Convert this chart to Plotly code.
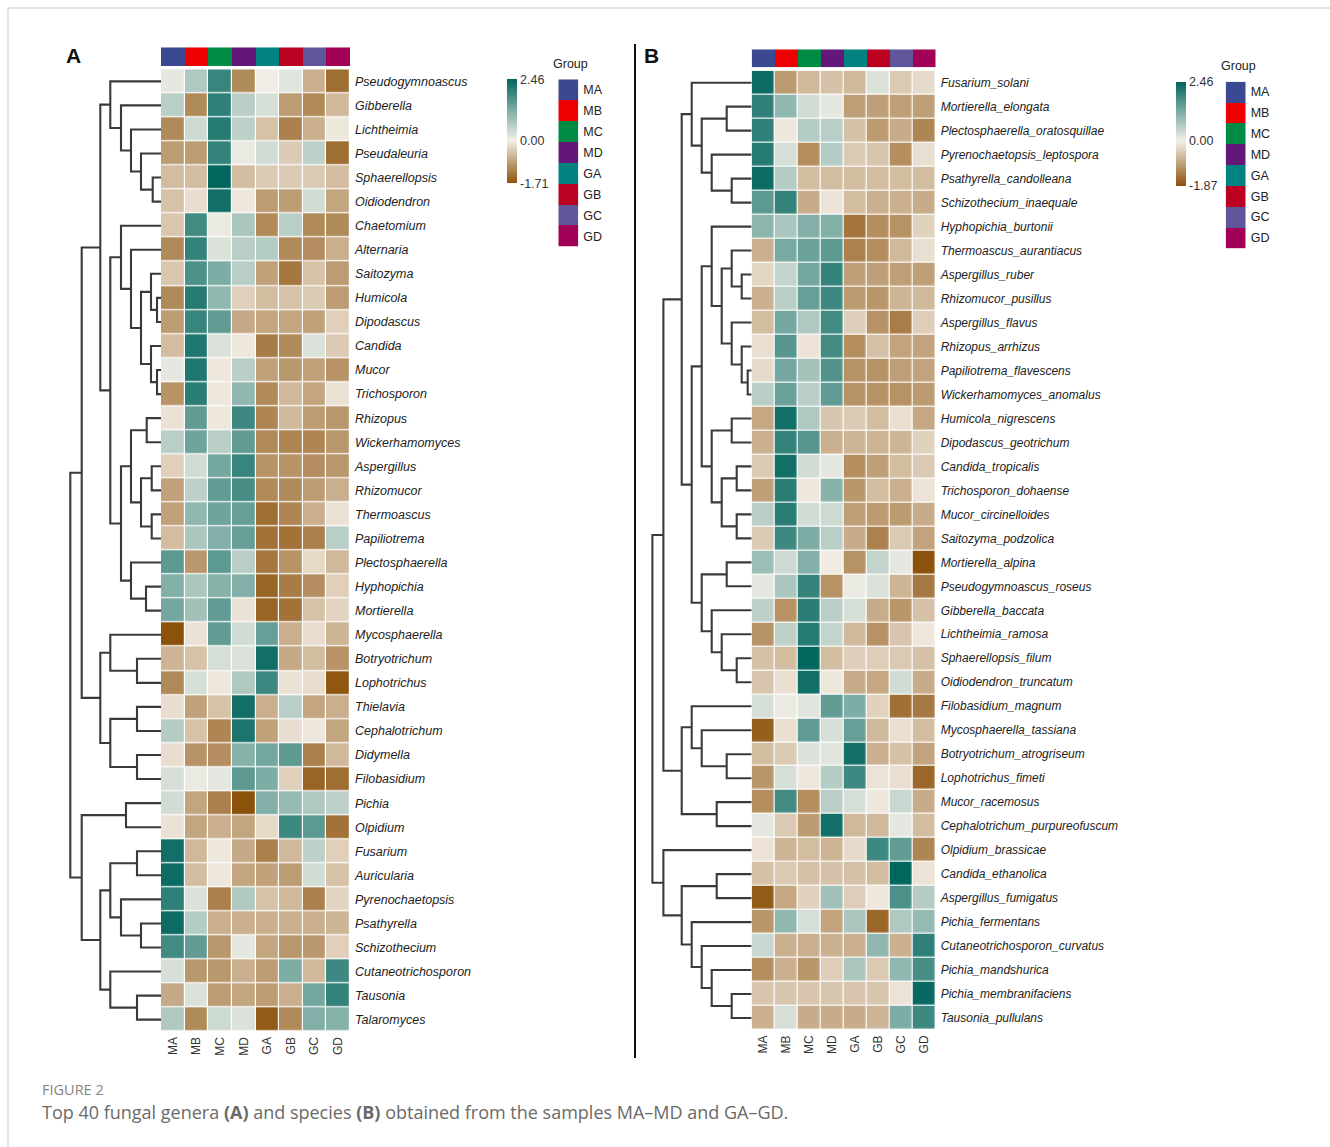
import plotly.graph_objects as go

W, H = 1330, 1147

GROUPS = ["MA", "MB", "MC", "MD", "GA", "GB", "GC", "GD"]
GROUP_COLORS = ["#3B4992", "#EE0000", "#008B45", "#631879",
                "#008280", "#BB0021", "#5F559B", "#A20056"]

GENERA = ["Pseudogymnoascus", "Gibberella", "Lichtheimia", "Pseudaleuria", "Sphaerellopsis",
          "Oidiodendron", "Chaetomium", "Alternaria", "Saitozyma", "Humicola",
          "Dipodascus", "Candida", "Mucor", "Trichosporon", "Rhizopus",
          "Wickerhamomyces", "Aspergillus", "Rhizomucor", "Thermoascus", "Papiliotrema",
          "Plectosphaerella", "Hyphopichia", "Mortierella", "Mycosphaerella", "Botryotrichum",
          "Lophotrichus", "Thielavia", "Cephalotrichum", "Didymella", "Filobasidium",
          "Pichia", "Olpidium", "Fusarium", "Auricularia", "Pyrenochaetopsis",
          "Psathyrella", "Schizothecium", "Cutaneotrichosporon", "Tausonia", "Talaromyces"]

VALUES_A = [
    [0.15, 0.70, 1.90, -1.10, 0.05, 0.20, -0.70, -1.40],
    [0.60, -1.10, 2.00, 0.60, 0.30, -0.90, -1.10, -0.60],
    [-1.10, 0.40, 2.10, 0.55, -0.50, -1.20, -0.70, -0.10],
    [-0.90, -0.90, 1.95, 0.10, 0.35, -0.40, 0.55, -1.40],
    [-0.55, -0.55, 2.46, -0.55, -0.40, -0.40, -0.40, -0.55],
    [-0.50, -0.20, 2.30, -0.10, -0.90, -0.90, 0.35, -0.80],
    [-0.45, 1.80, 0.10, 0.75, -1.10, 0.60, -1.10, -1.10],
    [-1.10, 1.95, 0.25, 0.60, 0.65, -1.10, -1.05, -0.70],
    [-0.45, 1.70, 1.20, 0.60, -0.85, -1.30, -0.50, -0.90],
    [-1.10, 2.10, 1.00, -0.35, -0.55, -0.50, -0.40, -0.90],
    [-0.90, 1.90, 1.50, -0.75, -0.80, -0.80, -0.85, -0.35],
    [-0.55, 2.15, 0.25, -0.10, -1.25, -1.10, 0.25, -0.40],
    [0.15, 2.15, -0.10, 0.60, -0.85, -0.95, -0.85, -1.00],
    [-1.00, 2.05, -0.10, 1.00, -1.10, -0.60, -0.80, -0.15],
    [-0.15, 1.50, -0.10, 1.85, -1.15, -0.60, -0.90, -0.95],
    [0.60, 1.35, 0.60, 1.50, -1.10, -1.15, -1.15, -0.95],
    [-0.35, 0.35, 1.30, 1.90, -1.00, -1.00, -1.05, -0.95],
    [-0.85, 0.55, 1.50, 1.75, -1.10, -1.10, -0.90, -0.70],
    [-0.85, 1.00, 1.35, 1.45, -1.40, -1.15, -0.70, -0.15],
    [-0.55, 0.75, 1.15, 1.45, -1.35, -1.35, -1.20, 0.60],
    [1.55, -0.95, 1.55, 0.60, -1.30, -1.00, -0.25, -0.60],
    [1.15, 0.75, 1.10, 1.15, -1.50, -1.25, -1.05, -0.35],
    [1.30, 0.85, 1.50, -0.15, -1.50, -1.35, -0.50, -0.30],
    [-1.71, -0.15, 1.50, 0.35, 1.45, -0.70, -0.20, -0.65],
    [-0.65, -0.50, 0.30, 0.25, 2.30, -0.75, -0.55, -1.00],
    [-1.10, 0.30, -0.10, 0.70, 1.85, -0.15, -0.20, -1.65],
    [-0.20, -0.85, -0.50, 2.30, -0.70, 0.60, -0.80, -0.70],
    [0.65, -0.50, -1.15, 2.20, -0.85, -0.20, -0.10, -0.80],
    [-0.20, -1.00, -1.05, 1.10, 1.30, 1.55, -1.20, -0.60],
    [0.30, 0.10, 0.15, 1.55, 1.20, -0.35, -1.50, -1.40],
    [0.35, -0.80, -1.20, -1.71, 1.15, 0.95, 0.70, 0.55],
    [-0.15, -0.80, -0.70, -0.80, -0.25, 1.85, 1.55, -1.35],
    [2.30, -0.60, -0.10, -0.75, -1.20, -0.60, 0.55, -0.35],
    [2.35, -0.55, -0.10, -0.80, -0.85, -0.90, 0.35, -0.50],
    [2.00, 0.25, -1.20, 0.70, -0.50, -0.60, -1.20, -0.30],
    [2.35, 0.65, -0.70, -0.70, -0.70, -0.70, -0.70, -0.65],
    [1.80, 1.50, -0.95, 0.15, -0.80, -0.95, -0.95, -0.35],
    [0.30, -0.95, -0.95, -0.70, -0.90, 1.20, -0.60, 1.85],
    [-0.75, 0.25, -0.90, -0.80, -0.90, -0.70, 1.30, 1.95],
    [0.70, -1.10, 0.40, 0.25, -1.60, -1.10, 1.15, 1.10],
]

SPECIES = ["Fusarium_solani", "Mortierella_elongata", "Plectosphaerella_oratosquillae",
           "Pyrenochaetopsis_leptospora", "Psathyrella_candolleana", "Schizothecium_inaequale",
           "Hyphopichia_burtonii", "Thermoascus_aurantiacus", "Aspergillus_ruber",
           "Rhizomucor_pusillus", "Aspergillus_flavus", "Rhizopus_arrhizus",
           "Papiliotrema_flavescens", "Wickerhamomyces_anomalus", "Humicola_nigrescens",
           "Dipodascus_geotrichum", "Candida_tropicalis", "Trichosporon_dohaense",
           "Mucor_circinelloides", "Saitozyma_podzolica", "Mortierella_alpina",
           "Pseudogymnoascus_roseus", "Gibberella_baccata", "Lichtheimia_ramosa",
           "Sphaerellopsis_filum", "Oidiodendron_truncatum", "Filobasidium_magnum",
           "Mycosphaerella_tassiana", "Botryotrichum_atrogriseum", "Lophotrichus_fimeti",
           "Mucor_racemosus", "Cephalotrichum_purpureofuscum", "Olpidium_brassicae",
           "Candida_ethanolica", "Aspergillus_fumigatus", "Pichia_fermentans",
           "Cutaneotrichosporon_curvatus", "Pichia_mandshurica", "Pichia_membranifaciens",
           "Tausonia_pullulans"]

VALUES_B = [
    [2.35, -1.00, -0.65, -0.55, -0.65, 0.25, -0.45, -0.25],
    [2.00, 1.00, 0.35, 0.15, -0.95, -0.95, -0.95, -0.95],
    [2.00, -0.10, 0.65, 0.60, -0.55, -1.00, -0.80, -1.25],
    [2.10, 0.30, -1.15, 0.65, -0.45, -0.50, -1.15, -0.20],
    [2.35, 0.65, -0.60, -0.60, -0.60, -0.60, -0.60, -0.60],
    [1.55, 1.95, -0.80, -0.15, -0.60, -0.75, -0.75, -0.80],
    [1.05, 0.75, 1.15, 1.15, -1.45, -1.15, -1.10, -0.35],
    [-0.75, 1.25, 1.40, 1.55, -1.30, -1.15, -0.65, -0.20],
    [-0.30, 0.50, 1.30, 1.95, -0.95, -0.95, -0.95, -0.95],
    [-0.75, 0.60, 1.45, 1.85, -1.00, -1.05, -0.70, -0.65],
    [-0.60, 1.30, 0.70, 1.80, -0.40, -1.10, -1.35, -0.40],
    [-0.20, 1.60, -0.15, 1.80, -1.15, -0.55, -0.90, -0.90],
    [-0.25, 1.30, 0.80, 1.65, -1.10, -1.10, -0.95, -0.90],
    [0.60, 1.40, 0.60, 1.50, -1.10, -1.10, -1.10, -1.00],
    [-0.85, 2.30, 0.70, -0.50, -0.45, -0.60, -0.20, -0.85],
    [-0.75, 1.95, 1.60, -0.75, -0.70, -0.70, -0.70, -0.35],
    [-0.45, 2.30, 0.35, 0.15, -1.15, -0.95, -0.60, -0.45],
    [-0.95, 2.05, -0.10, 1.10, -1.05, -0.60, -0.75, -0.15],
    [0.60, 2.05, 0.35, 0.40, -0.95, -1.00, -1.00, -0.80],
    [-0.45, 1.85, 1.20, 0.60, -0.80, -1.30, -0.45, -0.90],
    [0.90, 0.40, 1.15, -0.05, -1.10, 0.50, 0.15, -1.87],
    [0.15, 0.75, 1.95, -1.10, 0.10, 0.25, -0.70, -1.40],
    [0.55, -1.10, 2.05, 0.60, 0.30, -0.80, -1.05, -0.55],
    [-1.10, 0.55, 2.10, 0.50, -0.65, -1.10, -0.50, -0.10],
    [-0.55, -0.60, 2.46, -0.60, -0.40, -0.40, -0.45, -0.55],
    [-0.50, -0.20, 2.30, -0.10, -0.80, -0.85, 0.35, -0.80],
    [0.30, 0.10, 0.20, 1.50, 1.20, -0.35, -1.50, -1.40],
    [-1.70, -0.20, 1.50, 0.30, 1.45, -0.65, -0.20, -0.60],
    [-0.60, -0.45, 0.25, 0.20, 2.30, -0.75, -0.55, -0.90],
    [-1.05, 0.30, -0.10, 0.65, 1.85, -0.15, -0.20, -1.60],
    [-1.15, 1.80, -1.15, 0.60, 0.30, -0.10, 0.45, -0.80],
    [0.15, -0.45, -1.00, 2.30, -0.65, -0.65, 0.15, -0.60],
    [-0.15, -0.70, -0.60, -0.70, -0.25, 1.85, 1.50, -1.25],
    [-0.55, -0.45, -0.55, -0.55, -0.55, -0.60, 2.46, -0.15],
    [-1.75, -0.85, -0.35, 0.85, -0.40, -0.10, 1.70, 0.65],
    [-1.05, 1.00, 0.30, -0.90, 0.75, -1.60, 0.70, 0.95],
    [0.45, -0.75, -0.75, -0.75, -0.75, 1.00, -0.75, 2.00],
    [-1.15, -0.75, -1.05, -0.40, 0.75, -0.45, 1.00, 1.75],
    [-0.50, -0.50, -0.50, -0.50, -0.50, -0.50, -0.15, 2.40],
    [-0.75, 0.30, -0.80, -0.80, -0.80, -0.70, 1.20, 1.85],
]

ZMIN_A, ZMAX_A = -1.71, 2.46
ZMIN_B, ZMAX_B = -1.87, 2.46

# Row dendrograms: [left, right, merge height]; leaves are row indices
TREE_A = [
    [
        [[0, [1, [2, [3, [4, 5, 8.3], 20], 30], 40], 50.7],
         [[6, [7, [[8, [9, 10, 4], 10], [11, [12, 13, 4], 10], 20], 30], 40],
          [[[14, 15, 14.3], [[16, 17, 9.3], [18, 19, 9.3], 20], 30],
           [20, [21, 22, 15], 30], 40], 50.7], 60.7],
        [[23, [24, 25, 24], 50.7], [[26, 27, 24], [28, 29, 24], 50.7], 60.7],
        79.3],
    [[30, 31, 35],
     [[[32, 33, 24], [34, [35, 36, 20], 40], 50.7],
      [37, [38, 39, 24], 50.7], 60.7], 79.3],
    90.7]

TREE_B = [
    [
        [[0, [[1, 2, 25], [3, [4, 5, 20], 40], 50], 60],
         [[[6, [[7, [8, 9, 10], 20], [10, [11, [12, 13, 4], 10], 20], 30], 40],
           [[14, 15, 20], [[16, 17, 15], [18, 19, 15], 30], 40], 50],
          [[20, 21, 25], [22, [23, [24, 25, 15], 30], 40], 50], 60], 70],
        [[26, [27, [28, 29, 25], 50], 60], [30, 31, 35], 70],
        88.3],
    [32, [[33, 34, 35], [35, [36, [37, [38, 39, 20], 40], 50], 60], 70], 88.3],
    99.3]

FONT = "Liberation Sans, Arial, sans-serif"
TXT = "#222222"


def px_x(x0, x1):
    return [x0 / W, x1 / W]


def px_y(y0, y1):
    return [1 - y1 / H, 1 - y0 / H]


def tree_lines(node, xs, ys):
    if isinstance(node, int):
        return float(node), 0.0
    left, right, h = node
    yl, hl = tree_lines(left, xs, ys)
    yr, hr = tree_lines(right, xs, ys)
    xs += [hl, h, h, hr, None]
    ys += [yl, yl, yr, yr, None]
    return (yl + yr) / 2, h


def brbg(zmin, zmax):
    p0 = -zmin / (zmax - zmin)
    return [[0, "#8C510A"], [p0, "#F4F0E8"], [1, "#01665E"]]


def discrete_scale(colors):
    n = len(colors)
    sc = []
    for k, c in enumerate(colors):
        sc += [[k / n, c], [(k + 1) / n, c]]
    return sc


fig = go.Figure()
layout = {}

PANELS = [
    dict(names=GENERA, vals=VALUES_A, tree=TREE_A, zmin=ZMIN_A, zmax=ZMAX_A,
         dend=(62, 161), heat=(161, 350), top=69.3, bottom=1031.7, bar=(47.3, 66),
         cbar=(506.7, 79.3), legx=(558.3, 578.3), legy=(79.3, 246.7), lblsize=12.5, n=1),
    dict(names=SPECIES, vals=VALUES_B, tree=TREE_B, zmin=ZMIN_B, zmax=ZMAX_B,
         dend=(645, 751.7), heat=(751.7, 935.7), top=70.7, bottom=1030.0, bar=(49.3, 67.3),
         cbar=(1175.7, 81.7), legx=(1225.7, 1245.7), legy=(81.7, 248.3), lblsize=12, n=5),
]

for P in PANELS:
    n = P["n"]
    ax = lambda k: "" if k == 1 else str(k)
    nrow = len(P["names"])
    rows = list(range(nrow))

    # dendrogram
    xs, ys = [], []
    tree_lines(P["tree"], xs, ys)
    fig.add_trace(go.Scatter(x=xs, y=ys, mode="lines",
                             line=dict(color="#3a3a3a", width=2.1),
                             hoverinfo="skip", showlegend=False,
                             xaxis="x" + ax(n), yaxis="y" + ax(n)))
    d0, d1 = P["dend"]
    layout["xaxis" + ax(n)] = dict(domain=px_x(d0, d1), range=[d1 - d0, 0], visible=False)
    layout["yaxis" + ax(n)] = dict(domain=px_y(P["top"], P["bottom"]),
                                   range=[nrow - 0.5, -0.5], visible=False)

    # main heatmap
    fig.add_trace(go.Heatmap(
        z=P["vals"], x=GROUPS, y=rows, zmin=P["zmin"], zmax=P["zmax"],
        colorscale=brbg(P["zmin"], P["zmax"]), xgap=1.2, ygap=1.2,
        xaxis="x" + ax(n + 1), yaxis="y" + ax(n + 1),
        colorbar=dict(x=P["cbar"][0] / W, xanchor="left", y=1 - P["cbar"][1] / H,
                      yanchor="top", len=104, lenmode="pixels", thickness=10,
                      thicknessmode="pixels", outlinewidth=0, ticks="", xpad=0, ypad=0,
                      tickvals=[P["zmin"], 0, P["zmax"]],
                      ticktext=["%.2f" % P["zmin"], "0.00", "%.2f" % P["zmax"]],
                      tickfont=dict(family=FONT, size=12.5, color="#333333"))))
    h0, h1 = P["heat"]
    layout["xaxis" + ax(n + 1)] = dict(domain=px_x(h0, h1), side="bottom", tickangle=-90,
                                       ticks="", showgrid=False, zeroline=False,
                                       tickfont=dict(family=FONT, size=12, color="#333333"),
                                       ticklabelstandoff=2, anchor="y" + ax(n + 1))
    layout["yaxis" + ax(n + 1)] = dict(domain=px_y(P["top"], P["bottom"]),
                                       range=[nrow - 0.5, -0.5], side="right", ticks="",
                                       tickvals=rows,
                                       ticktext=["<i>%s</i>" % s for s in P["names"]],
                                       showgrid=False, zeroline=False, ticklabelstandoff=4,
                                       tickfont=dict(family=FONT, size=P["lblsize"], color=TXT),
                                       anchor="x" + ax(n + 1))

    # column annotation bar
    fig.add_trace(go.Heatmap(z=[list(range(len(GROUPS)))], x=GROUPS, y=[0],
                             zmin=-0.5, zmax=len(GROUPS) - 0.5,
                             colorscale=discrete_scale(GROUP_COLORS), showscale=False,
                             hoverinfo="skip",
                             xaxis="x" + ax(n + 2), yaxis="y" + ax(n + 2)))
    b0, b1 = P["bar"]
    layout["xaxis" + ax(n + 2)] = dict(domain=px_x(h0, h1), visible=False,
                                       anchor="y" + ax(n + 2))
    layout["yaxis" + ax(n + 2)] = dict(domain=px_y(b0, b1), visible=False,
                                       anchor="x" + ax(n + 2))

    # group legend
    fig.add_trace(go.Heatmap(z=[[k] for k in range(len(GROUPS))], x=[0], y=GROUPS,
                             zmin=-0.5, zmax=len(GROUPS) - 0.5,
                             colorscale=discrete_scale(GROUP_COLORS), showscale=False,
                             hoverinfo="skip",
                             xaxis="x" + ax(n + 3), yaxis="y" + ax(n + 3)))
    l0, l1 = P["legx"]
    g0, g1 = P["legy"]
    layout["xaxis" + ax(n + 3)] = dict(domain=px_x(l0, l1), visible=False,
                                       anchor="y" + ax(n + 3))
    layout["yaxis" + ax(n + 3)] = dict(domain=px_y(g0, g1), autorange="reversed",
                                       side="right", ticks="", showgrid=False,
                                       zeroline=False, ticklabelstandoff=4,
                                       tickfont=dict(family=FONT, size=12.5, color=TXT),
                                       anchor="x" + ax(n + 3))

annotations = [
    dict(text="<b>A</b>", x=73 / W, y=1 - 55 / H, font=dict(family=FONT, size=21, color="#111")),
    dict(text="<b>B</b>", x=651 / W, y=1 - 55 / H, font=dict(family=FONT, size=21, color="#111")),
    dict(text="Group", x=570 / W, y=1 - 64 / H, font=dict(family=FONT, size=12.5, color=TXT)),
    dict(text="Group", x=1238 / W, y=1 - 66.5 / H, font=dict(family=FONT, size=12.5, color=TXT)),
    dict(text="FIGURE 2", x=40 / W, y=1 - 1089 / H, xanchor="left",
         font=dict(family="Open Sans, sans-serif", size=14.5, color="#858585")),
    dict(text="Top 40 fungal genera <b>(A)</b> and species <b>(B)</b> obtained from the samples MA\u2013MD and GA\u2013GD.",
         x=40 / W, y=1 - 1112 / H, xanchor="left",
         font=dict(family="Open Sans, sans-serif", size=18, color="#6a6a6a")),
]
for a in annotations:
    a.update(xref="paper", yref="paper", showarrow=False)
    a.setdefault("xanchor", "center")
    a.setdefault("yanchor", "middle")

shapes = [
    dict(type="line", xref="paper", yref="paper", x0=8 / W, x1=1, y0=1 - 8 / H, y1=1 - 8 / H,
         line=dict(color="#c8c8c8", width=1)),
    dict(type="line", xref="paper", yref="paper", x0=8 / W, x1=8 / W, y0=1 - 8 / H, y1=0,
         line=dict(color="#c8c8c8", width=1)),
    dict(type="line", xref="paper", yref="paper", x0=635 / W, x1=635 / W,
         y0=1 - 44 / H, y1=1 - 1058 / H, line=dict(color="#111111", width=2)),
]

fig.update_layout(
    width=W, height=H, margin=dict(l=0, r=0, t=0, b=0),
    paper_bgcolor="white", plot_bgcolor="white",
    font=dict(family=FONT, color=TXT),
    annotations=annotations, shapes=shapes, showlegend=False,
    **layout)

fig.write_html("out.html", config={"displayModeBar": False},
               post_script="document.body.style.margin='0';")
